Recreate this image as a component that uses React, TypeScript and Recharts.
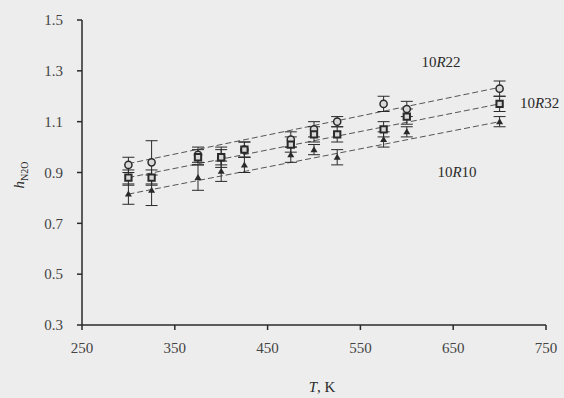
import {
  ComposedChart,
  ErrorBar,
  Line,
  Scatter,
  XAxis,
  YAxis,
  ZAxis,
} from 'recharts';

const temps = [300, 325, 375, 400, 425, 475, 500, 525, 575, 600, 700];

const h22 = [0.93, 0.94, 0.97, 0.96, 0.99, 1.03, 1.07, 1.1, 1.17, 1.15, 1.23];
const e22 = [0.03, 0.085, 0.03, 0.04, 0.03, 0.03, 0.03, 0.02, 0.03, 0.03, 0.03];

const h32 = [0.88, 0.88, 0.96, 0.96, 0.99, 1.01, 1.05, 1.05, 1.07, 1.12, 1.17];
const e32 = [0.03, 0.03, 0.03, 0.03, 0.03, 0.03, 0.03, 0.03, 0.03, 0.03, 0.03];

const h10 = [0.815, 0.83, 0.88, 0.905, 0.93, 0.97, 0.99, 0.96, 1.03, 1.06, 1.1];
const e10 = [0.04, 0.06, 0.05, 0.04, 0.03, 0.03, 0.02, 0.03, 0.03, 0.02, 0.02];

// linear fits, endpoints only
const fitT = [300, 700];
const fit22 = [0.935, 1.235];
const fit32 = [0.88, 1.17];
const fit10 = [0.815, 1.1];

const xTicks = [250, 350, 450, 550, 650, 750];
const yTicks = [0.3, 0.5, 0.7, 0.9, 1.1, 1.3, 1.5];

const INK = '#2a2a2a';
const FONT = '"Liberation Serif", "DejaVu Serif", serif';

const toPoints = (vals: number[], errs: number[]) =>
  temps.map((t, i) => ({ t, v: vals[i], e: errs[i] }));
const toFit = (vals: number[]) => fitT.map((t, i) => ({ t, v: vals[i] }));

// small filled triangle for 10R10
function SmallTriangle(props: any) {
  const { cx, cy } = props;
  if (cx == null || cy == null) return null;
  return <path d={`M${cx},${cy - 3.5}L${cx + 3.5},${cy + 2.5}L${cx - 3.5},${cy + 2.5}Z`} fill={INK} />;
}

function YLabel() {
  return (
    <text
      x={24}
      y={175}
      transform="rotate(-90, 24, 175)"
      textAnchor="middle"
      fontFamily={FONT}
      fontSize={15}
      fill={INK}
    >
      <tspan fontStyle="italic">h</tspan>
      <tspan fontSize={10} dy={4}>N2O</tspan>
    </text>
  );
}

function XLabel() {
  return (
    <text x={322} y={392} textAnchor="middle" fontFamily={FONT} fontSize={15} fill={INK}>
      <tspan fontStyle="italic">T</tspan>, K
    </text>
  );
}

export default function App() {
  const tickStyle = { fontFamily: FONT, fontSize: 15, fill: '#444' };
  return (
    <div style={{ position: 'absolute', left: 0, top: 0, width: 564, height: 398, background: '#ededed' }}>
      <ComposedChart width={564} height={398} margin={{ top: 20, right: 18, left: 0, bottom: 0 }}>
        <XAxis
          dataKey="t"
          type="number"
          domain={[250, 750]}
          ticks={xTicks}
          allowDataOverflow
          height={73}
          tick={tickStyle}
          tickSize={5}
          tickMargin={12}
          stroke={INK}
          strokeWidth={1.5}
          label={<XLabel />}
        />
        <YAxis
          dataKey="v"
          type="number"
          domain={[0.3, 1.5]}
          ticks={yTicks}
          allowDataOverflow
          width={82}
          tick={tickStyle}
          tickSize={5}
          tickMargin={14}
          tickFormatter={(v: number) => v.toFixed(1)}
          stroke={INK}
          strokeWidth={1.5}
          label={<YLabel />}
        />
        <ZAxis range={[40, 40]} />
        <Line data={toFit(fit22)} dataKey="v" stroke="#555" strokeWidth={1} strokeDasharray="6 3" dot={false} isAnimationActive={false} />
        <Line data={toFit(fit32)} dataKey="v" stroke="#555" strokeWidth={1} strokeDasharray="6 3" dot={false} isAnimationActive={false} />
        <Line data={toFit(fit10)} dataKey="v" stroke="#555" strokeWidth={1} strokeDasharray="6 3" dot={false} isAnimationActive={false} />
        <Scatter data={toPoints(h22, e22)} shape="circle" fill="#d8d8d8" stroke={INK} strokeWidth={1.5} isAnimationActive={false}>
          <ErrorBar dataKey="e" direction="y" width={6} stroke={INK} strokeWidth={1} />
        </Scatter>
        <Scatter data={toPoints(h32, e32)} shape="square" fill="#d8d8d8" stroke={INK} strokeWidth={2} isAnimationActive={false}>
          <ErrorBar dataKey="e" direction="y" width={6} stroke={INK} strokeWidth={1} />
        </Scatter>
        <Scatter data={toPoints(h10, e10)} shape={<SmallTriangle />} fill={INK} isAnimationActive={false}>
          <ErrorBar dataKey="e" direction="y" width={6} stroke={INK} strokeWidth={1} />
        </Scatter>
        <text x={441} y={67} textAnchor="middle" fontFamily={FONT} fontSize={15} fill={INK}>
          10<tspan fontStyle="italic">R</tspan>22
        </text>
        <text x={520} y={108} fontFamily={FONT} fontSize={15} fill={INK}>
          10<tspan fontStyle="italic">R</tspan>32
        </text>
        <text x={457} y={177} textAnchor="middle" fontFamily={FONT} fontSize={15} fill={INK}>
          10<tspan fontStyle="italic">R</tspan>10
        </text>
      </ComposedChart>
    </div>
  );
}
